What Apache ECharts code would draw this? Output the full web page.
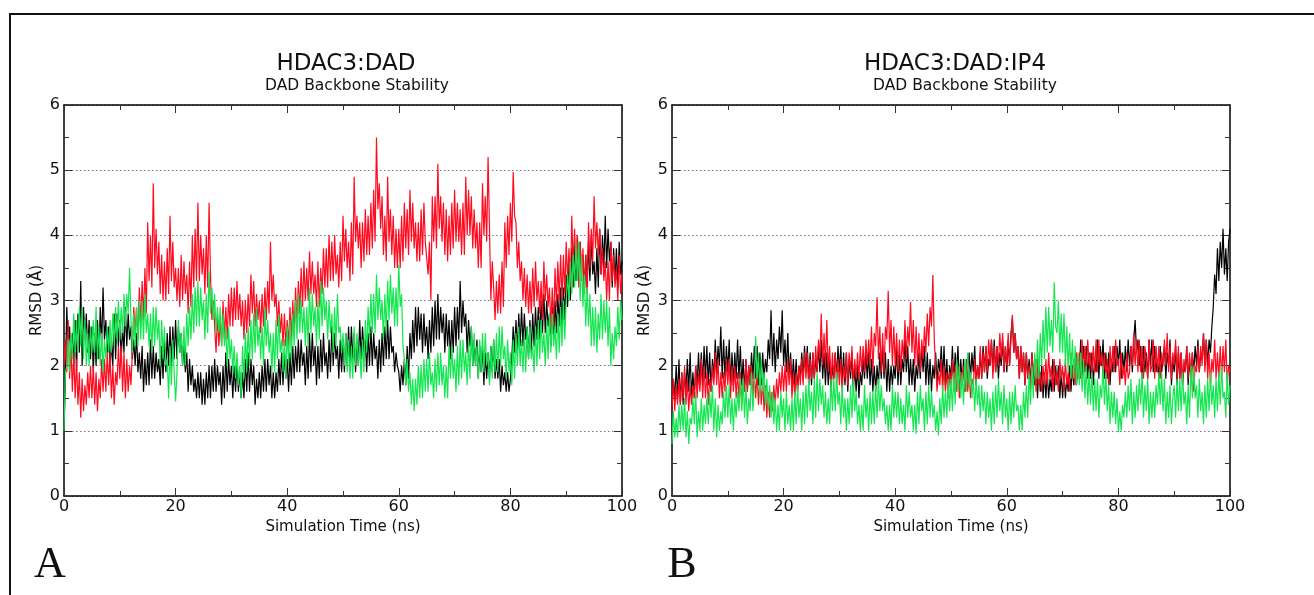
<!DOCTYPE html>
<html>
<head>
<meta charset="utf-8">
<script src="https://cdn.jsdelivr.net/npm/echarts@6/dist/echarts.min.js"></script>
<style>
html,body{margin:0;padding:0;background:#fff;}
#c{width:1314px;height:595px;}
</style>
</head>
<body>
<div id="c"></div>
<script>
// ---- data (RMSD in Å, sampled every 0.25 ns from 0 to 100 ns) ----
const timeStep = 0.25;
const xTicks = [0, 20, 40, 60, 80, 100];
const yTicks = [0, 1, 2, 3, 4, 5, 6];
const panelTitles = ['HDAC3:DAD', 'HDAC3:DAD:IP4'];
const panelSubtitles = ['DAD Backbone Stability', 'DAD Backbone Stability'];
const panelLetters = ['A', 'B'];

const blackA = [
1.0,1.8,2.9,2.3,2.6,2.1,2.5,2.0,2.7,1.9,2.8,2.2,3.3,2.0,2.9,2.4,2.8,2.2,2.7,2.1,
2.6,1.9,2.5,2.0,2.7,2.1,2.9,2.3,3.2,2.4,2.7,2.2,2.6,1.9,2.4,2.0,2.8,2.1,2.8,2.3,
2.7,2.1,2.6,2.2,2.9,2.3,2.8,2.4,2.6,2.1,2.4,2.0,2.5,1.9,2.2,1.8,2.3,1.6,2.1,1.7,
2.2,1.7,2.4,1.8,2.3,1.8,2.2,1.9,2.1,1.7,2.3,1.8,2.4,1.9,2.5,2.0,2.6,2.0,2.6,2.1,
2.7,2.1,2.6,2.2,2.5,2.0,2.3,1.9,2.2,1.6,2.1,1.7,2.0,1.6,1.8,1.5,1.9,1.5,1.9,1.4,
1.8,1.4,1.9,1.5,2.0,1.5,2.0,1.6,2.1,1.6,2.0,1.7,1.9,1.4,2.0,1.5,2.2,1.6,2.1,1.7,
2.0,1.5,2.0,1.6,2.1,1.6,1.9,1.5,1.9,1.5,2.1,1.6,2.2,1.6,2.1,1.7,2.0,1.4,1.8,1.5,
1.9,1.5,2.0,1.6,2.1,1.6,2.1,1.7,2.0,1.5,1.9,1.5,1.9,1.6,2.1,1.7,2.2,1.7,2.2,1.8,
2.1,1.6,2.2,1.7,2.3,1.8,2.3,1.9,2.4,1.9,2.4,2.0,2.2,1.7,2.3,1.8,2.5,1.9,2.5,2.0,
2.3,1.7,2.3,1.8,2.4,1.9,2.5,2.0,2.2,1.8,2.4,1.9,2.6,2.0,2.5,2.1,2.3,1.8,2.4,1.9,
2.4,1.9,2.5,2.0,2.6,2.0,2.6,2.1,2.5,1.9,2.4,2.0,2.7,2.1,2.6,2.2,2.4,1.9,2.5,2.0,
2.6,2.0,2.5,2.1,2.3,1.8,2.4,1.9,2.5,2.0,2.6,2.1,2.7,2.1,2.6,2.2,2.3,1.9,2.2,2.0,
1.9,1.6,2.0,1.7,2.1,1.7,2.3,1.8,2.5,2.1,2.7,2.2,2.9,2.3,2.9,2.4,2.8,2.2,2.8,2.3,
2.6,2.1,2.7,2.2,2.9,2.3,3.0,2.4,3.1,2.4,2.9,2.5,2.8,2.2,2.8,2.3,2.7,2.1,2.7,2.2,
2.9,2.3,2.9,2.4,3.3,2.5,3.0,2.6,2.8,2.2,2.7,2.3,2.6,2.0,2.4,2.0,2.4,1.8,2.3,1.9,
2.3,1.7,2.2,1.8,2.2,1.8,2.3,1.9,2.4,1.8,2.1,1.8,2.1,1.6,2.0,1.7,1.9,1.6,1.9,1.6,
1.8,2.1,2.6,2.2,2.7,2.2,2.8,2.3,2.9,2.3,2.8,2.4,2.6,2.1,2.7,2.2,2.8,2.3,2.9,2.4,
2.9,2.4,3.0,2.5,3.1,2.5,3.0,2.6,2.8,2.3,2.9,2.4,3.0,2.5,3.1,2.6,3.2,2.6,3.2,2.7,
3.4,2.9,3.6,3.0,3.8,3.2,3.9,3.3,4.0,3.3,3.9,3.4,3.7,3.1,3.7,3.2,3.9,3.3,4.0,3.4,
3.6,3.1,3.8,3.2,4.1,3.4,4.0,3.5,4.3,3.5,4.1,3.6,3.9,3.2,3.8,3.3,3.8,3.2,3.9,3.4,
3.6];

const redA = [
2.0,2.4,1.9,2.7,1.8,2.3,1.6,2.2,1.5,2.1,1.4,1.9,1.2,1.8,1.3,1.7,1.4,1.9,1.5,2.0,
1.5,2.0,1.4,1.9,1.3,1.8,1.5,2.1,1.6,2.1,1.6,2.2,1.7,2.2,1.5,2.0,1.4,1.9,1.7,2.3,
1.8,2.3,1.6,2.2,1.5,2.1,1.6,2.0,1.7,2.2,2.9,2.5,2.9,2.4,3.2,2.6,3.3,2.7,3.5,2.8,
4.2,3.3,4.0,3.2,4.8,3.5,4.1,3.4,3.9,3.1,3.7,3.0,3.6,3.0,3.8,3.1,4.3,3.3,3.9,3.2,
3.5,3.0,3.5,2.9,3.7,3.0,3.6,3.1,3.4,2.8,3.6,2.9,4.0,3.2,4.1,3.3,4.5,3.3,4.0,3.4,
3.8,3.1,4.0,3.2,4.5,3.4,2.7,3.0,2.6,2.2,2.8,2.3,2.7,2.3,3.0,2.4,2.9,2.4,3.1,2.6,
3.2,2.6,3.2,2.7,3.3,2.7,3.1,2.6,3.0,2.4,3.0,2.5,3.1,2.6,3.4,2.8,3.3,2.6,3.1,2.7,
3.0,2.5,3.1,2.6,3.2,2.7,3.3,2.8,3.9,3.0,3.4,2.9,3.1,2.6,3.0,2.5,2.8,2.3,2.8,2.3,
2.7,2.3,2.9,2.4,3.0,2.5,3.2,2.6,3.3,2.8,3.5,2.9,3.6,3.0,3.5,3.0,3.75,3.1,3.6,3.1,
3.4,2.9,3.6,2.9,3.5,3.1,3.8,3.2,3.8,3.2,4.0,3.3,3.9,3.3,4.0,3.4,3.7,3.2,3.9,3.3,
4.3,3.6,4.1,3.5,3.9,3.3,4.2,3.4,4.9,3.9,4.3,3.8,4.2,3.5,4.2,3.6,4.4,3.7,4.3,3.7,
4.5,3.8,4.7,3.9,5.5,4.4,4.8,4.1,4.6,3.7,4.3,3.6,4.9,3.9,4.4,3.7,4.3,3.5,4.1,3.5,
4.1,3.5,4.3,3.6,4.5,3.8,4.4,3.7,4.7,3.9,4.5,3.8,4.2,3.6,4.2,3.6,4.4,3.7,4.5,3.9,
3.9,3.4,3.9,3.0,4.6,3.9,4.6,3.8,5.1,4.1,4.6,3.9,4.5,3.7,4.4,3.6,4.3,3.7,4.5,3.8,
4.7,3.9,4.5,3.9,4.4,3.7,4.5,3.7,4.9,4.0,4.7,4.0,4.6,3.8,4.4,3.8,4.2,3.5,4.2,3.5,
4.8,4.0,4.6,3.9,5.2,4.1,3.0,3.6,3.2,2.7,3.3,2.8,3.4,2.8,3.6,2.9,4.2,3.5,4.3,3.7,
4.5,3.9,4.97,4.3,4.2,3.5,3.9,3.3,3.6,3.0,3.5,2.9,3.4,2.8,3.3,2.8,3.5,2.9,3.6,3.0,
3.3,2.8,3.3,2.7,3.6,3.0,3.4,2.9,3.2,2.6,3.2,2.6,3.5,2.9,3.6,3.0,3.7,3.0,3.7,3.1,
3.9,3.3,3.8,3.2,4.3,3.5,4.1,3.5,4.0,3.2,3.9,3.3,3.8,3.1,3.7,3.1,4.2,3.5,4.1,3.6,
4.6,3.8,4.2,3.7,4.1,3.4,3.8,3.3,3.6,3.0,3.6,3.0,3.9,3.3,3.7,3.2,3.5,3.0,3.7,3.1,
3.4];

const greenA = [
1.0,1.9,2.0,2.4,1.9,2.5,2.1,2.8,2.2,2.7,2.2,2.9,2.3,2.9,2.1,2.7,2.0,2.5,2.0,2.6,
2.2,2.7,2.2,2.9,2.1,2.6,2.0,2.5,1.9,2.4,2.1,2.6,2.2,2.7,2.2,2.8,2.3,2.9,2.4,3.0,
2.4,2.9,2.5,3.1,2.6,3.1,2.8,3.5,2.7,2.2,2.8,2.3,2.9,2.3,3.0,2.4,3.0,2.4,3.1,2.5,
2.8,2.3,2.8,2.2,2.9,2.3,2.9,2.4,2.7,2.0,2.7,2.1,2.6,2.0,2.1,1.5,2.3,1.7,2.4,1.9,
1.45,1.9,2.7,2.2,2.5,2.0,2.6,2.0,2.8,2.3,2.9,2.4,3.1,2.5,3.2,2.6,3.3,2.6,3.2,2.7,
3.0,2.4,3.1,2.5,3.45,2.8,3.2,2.7,3.1,2.5,2.9,2.5,2.9,2.3,2.8,2.3,2.6,2.0,2.6,2.1,
2.4,1.9,2.3,1.8,2.2,1.7,2.0,1.5,2.3,1.8,2.5,1.9,2.6,2.0,2.7,2.1,2.8,2.2,2.9,2.3,
2.6,2.1,2.6,2.0,2.9,2.3,2.7,2.2,2.5,1.9,2.5,1.9,2.7,2.1,2.8,2.2,2.4,1.9,2.4,1.8,
2.6,2.0,2.7,2.1,2.8,2.3,3.0,2.4,3.1,2.5,3.0,2.5,2.9,2.3,2.9,2.3,3.2,2.5,3.1,2.6,
2.9,2.3,3.0,2.4,3.3,2.6,3.2,2.7,3.0,2.4,3.0,2.5,2.8,2.2,2.9,2.3,3.1,2.5,2.6,2.2,
2.5,2.0,2.5,1.9,2.4,1.8,2.3,1.8,2.6,2.0,2.5,2.0,2.3,1.8,2.4,1.9,2.7,2.2,2.9,2.4,
3.1,2.5,3.1,2.5,3.4,2.7,3.2,2.7,3.0,2.4,3.1,2.5,3.3,2.7,3.4,2.8,3.2,2.6,3.2,2.6,
3.55,2.9,3.1,2.3,2.1,1.7,2.1,1.6,1.9,1.4,1.8,1.3,1.8,1.4,2.0,1.5,2.0,1.5,2.1,1.6,
2.1,1.6,2.2,1.7,1.9,1.5,2.1,1.6,2.2,1.7,2.2,1.7,2.0,1.5,2.0,1.5,2.3,1.8,2.3,1.8,
2.1,1.6,2.3,1.7,2.4,1.8,2.4,1.9,2.2,1.7,2.4,1.8,2.6,2.0,2.5,2.0,2.3,1.8,2.4,1.9,
2.5,1.9,2.5,2.0,2.2,1.7,2.3,1.8,2.4,1.9,2.5,1.9,2.6,2.0,2.6,2.1,2.3,1.8,2.4,1.9,
2.2,1.7,2.4,1.8,2.5,2.0,2.6,2.0,2.4,1.9,2.5,1.9,2.6,2.1,2.6,2.1,2.3,1.9,2.6,2.0,
2.7,2.1,2.7,2.2,2.5,2.0,2.7,2.1,2.8,2.2,2.8,2.3,2.6,2.1,2.8,2.2,2.9,2.3,3.0,2.4,
3.0,3.4,3.0,3.6,3.1,3.7,3.2,3.9,3.3,3.9,3.0,3.7,2.9,3.4,2.6,3.2,2.6,3.1,2.3,2.9,
2.3,2.9,2.2,2.8,2.4,3.1,2.4,3.0,2.5,3.0,2.3,2.9,2.0,2.5,2.1,2.6,2.3,2.9,2.4,3.0,
2.7];

const blackB = [
1.3,1.8,1.5,2.0,1.5,2.1,1.4,1.9,1.4,1.9,1.6,2.1,1.6,2.2,1.5,1.9,1.5,2.0,1.7,2.2,
1.7,2.2,1.7,2.3,1.8,2.3,1.7,2.2,1.6,2.1,1.8,2.4,1.9,2.3,2.0,2.6,1.8,2.4,1.8,2.3,
1.9,2.4,1.7,2.2,1.7,2.2,1.8,2.4,1.8,2.3,1.7,2.1,1.6,2.1,1.6,2.0,1.7,2.2,1.8,2.3,
1.8,2.3,1.7,2.2,1.7,2.2,1.8,2.1,1.9,2.4,2.1,2.85,2.0,2.5,1.9,2.4,2.1,2.6,2.2,2.85,
2.0,2.4,1.9,2.5,1.8,2.2,1.7,2.1,1.7,2.1,1.6,2.0,1.8,2.2,1.8,2.3,1.9,2.3,1.7,2.2,
1.7,2.2,1.8,2.1,1.9,2.3,1.9,2.4,1.8,2.2,1.7,2.2,1.7,2.1,1.6,2.0,1.8,2.2,1.8,2.3,
1.9,2.3,1.7,2.2,1.7,2.2,1.6,2.1,1.8,2.2,1.6,2.0,1.6,2.0,1.5,1.9,1.7,2.1,1.8,2.2,
1.8,2.2,1.7,2.1,1.6,2.0,1.6,2.0,1.7,2.2,1.8,2.3,1.8,2.2,1.6,2.1,1.6,2.0,1.7,2.0,
1.8,2.3,1.7,2.2,1.7,2.1,1.9,2.4,1.9,2.3,1.7,2.1,1.7,2.1,1.6,2.0,1.8,2.2,1.8,2.3,
1.9,2.3,1.7,2.2,1.7,2.1,1.6,2.0,1.8,2.2,1.7,2.1,1.9,2.3,1.8,2.3,1.7,2.1,1.6,2.0,
1.8,2.3,1.7,2.2,1.9,2.3,1.7,2.1,1.7,2.1,1.6,2.0,1.8,2.2,1.8,2.2,1.9,2.3,1.7,2.0,
1.8,2.2,1.8,2.3,1.9,2.3,1.8,2.1,2.0,2.4,1.9,2.4,1.9,2.3,1.8,2.2,2.0,2.4,1.9,2.3,
1.9,2.4,2.0,2.5,2.73,2.2,2.5,2.1,2.3,1.8,2.3,1.9,2.2,1.7,2.2,1.8,2.1,1.7,2.2,1.9,
1.7,2.1,1.5,2.0,1.6,2.0,1.5,1.9,1.5,1.9,1.5,1.8,1.6,2.1,1.6,2.0,1.7,2.0,1.5,1.9,
1.5,1.9,1.5,1.8,1.6,2.0,1.6,2.0,1.7,2.1,1.7,2.1,1.9,2.4,1.8,2.3,1.9,2.3,1.8,2.2,
1.8,2.2,1.7,2.1,1.9,2.4,1.8,2.3,2.0,2.4,1.8,2.2,1.8,2.2,1.7,2.1,1.9,2.3,1.9,2.3,
2.0,2.4,1.8,2.2,1.9,2.3,1.9,2.4,2.0,2.3,1.9,2.4,2.7,2.2,2.4,2.0,2.3,1.8,2.3,1.9,
2.2,1.8,2.4,2.0,2.4,1.9,2.3,1.9,2.1,1.8,2.3,1.9,1.9,2.3,1.8,2.2,2.0,2.4,1.7,2.1,
1.9,2.3,1.7,2.2,1.8,2.2,1.7,2.0,1.9,2.3,1.7,2.1,1.8,2.2,1.9,2.3,2.0,2.4,1.9,2.2,
2.1,2.5,2.0,2.4,2.0,2.4,2.2,2.6,2.9,3.4,3.1,3.8,3.3,3.9,3.5,4.1,3.4,3.8,3.3,3.9,
4.1];

const redB = [
1.3,1.8,1.3,1.7,1.4,1.8,1.4,1.9,1.5,2.0,1.4,1.8,1.3,1.7,1.4,1.7,1.5,2.0,1.5,1.9,
1.6,2.1,1.5,2.0,1.5,1.9,1.4,1.8,1.6,2.0,1.7,2.2,1.7,2.1,1.5,1.9,1.5,1.9,1.6,2.1,
1.7,2.1,1.5,2.0,1.6,2.0,1.5,1.9,1.5,1.9,1.4,1.8,1.6,2.1,1.6,2.0,1.7,2.0,1.5,1.9,
1.5,1.9,1.4,1.8,1.4,1.8,1.3,1.7,1.2,1.6,1.2,1.6,1.3,1.7,1.4,1.8,1.5,1.9,1.6,2.0,
1.6,2.0,1.6,2.1,1.7,2.1,1.5,1.9,1.5,1.9,1.6,2.0,1.7,2.1,1.7,2.2,1.8,2.2,1.7,2.1,
1.8,2.2,1.8,2.3,1.9,2.4,2.1,2.8,2.0,2.5,2.0,2.7,1.9,2.3,1.7,2.2,1.8,2.2,1.7,2.1,
1.7,2.1,1.6,2.0,1.8,2.2,1.7,2.2,1.9,2.3,1.7,2.1,1.8,2.2,1.8,2.3,1.9,2.3,1.9,2.4,
2.0,2.4,2.0,2.6,1.9,2.5,2.3,3.05,2.1,2.6,1.9,2.5,1.9,2.6,2.4,3.15,2.2,2.7,2.0,2.6,
2.0,2.5,1.9,2.4,1.9,2.4,2.1,2.7,2.1,2.6,2.3,2.98,2.2,2.7,2.0,2.6,2.0,2.5,1.9,2.4,
2.1,2.6,2.2,2.8,2.3,2.9,2.6,3.39,2.4,2.0,1.6,1.9,1.7,2.1,1.6,2.0,1.6,1.9,1.5,1.9,
1.7,2.1,1.6,2.0,1.6,2.0,1.5,1.9,1.7,2.0,1.6,2.1,1.6,1.9,1.5,1.8,1.7,2.1,1.7,2.0,
1.8,2.3,1.8,2.2,1.9,2.3,1.9,2.4,2.0,2.4,1.8,2.3,1.9,2.3,2.0,2.5,2.1,2.5,1.9,2.3,
2.0,2.5,2.0,2.4,2.78,2.2,2.5,2.1,2.3,1.8,2.3,1.9,2.2,1.7,2.2,1.8,2.0,1.6,2.2,1.9,
2.0,1.6,2.1,1.7,1.9,1.6,2.0,1.7,2.1,1.7,2.2,1.8,2.0,1.6,2.1,1.7,1.9,1.6,2.1,1.8,
2.0,1.6,2.1,1.7,1.9,1.6,2.2,1.8,2.1,1.7,2.2,1.8,2.2,1.8,2.4,1.9,2.3,1.9,2.4,2.0,
2.2,1.8,2.3,1.9,2.4,1.9,2.4,2.0,2.2,1.8,2.2,1.8,2.1,1.7,2.3,1.9,2.3,1.9,2.4,2.0,
2.1,1.7,2.2,1.8,2.0,1.7,2.2,1.8,1.9,2.3,2.0,2.5,2.0,2.4,1.9,2.4,1.9,2.3,1.8,2.3,
2.1,1.8,2.4,1.9,2.0,2.4,1.8,2.3,1.9,2.3,1.8,2.2,2.0,2.4,2.0,2.5,1.9,2.3,1.8,2.2,
2.0,2.4,1.8,2.3,1.8,2.2,1.7,2.1,1.9,2.3,1.8,2.2,1.8,2.2,1.6,2.0,1.9,2.3,1.9,2.3,
2.0,2.5,1.9,2.4,1.8,2.2,1.7,2.1,1.9,2.4,1.8,2.2,1.8,2.3,1.8,2.3,1.9,2.4,1.7,2.0,
1.9];

const greenB = [
0.8,1.3,0.9,1.2,0.9,1.4,1.0,1.4,1.0,1.5,0.9,1.3,0.8,1.2,1.1,1.5,1.1,1.6,0.9,1.3,
1.0,1.5,1.0,1.4,1.1,1.5,1.1,1.6,1.2,1.7,1.0,1.5,0.9,1.4,1.0,1.3,1.1,1.6,1.2,1.7,
1.2,1.7,1.1,1.5,1.0,1.5,1.2,1.6,1.3,1.8,1.3,1.8,1.2,1.7,1.1,1.5,1.3,1.9,1.3,1.7,
2.45,1.8,2.2,1.5,2.1,1.6,1.9,1.4,1.8,1.3,1.7,1.2,1.6,1.1,1.5,1.0,1.4,1.0,1.6,1.2,
1.5,1.0,1.6,1.1,1.4,1.0,1.5,1.0,1.6,1.1,1.7,1.2,1.5,1.0,1.6,1.1,1.7,1.2,1.8,1.3,
1.6,1.1,1.8,1.2,1.9,1.3,1.8,1.4,1.7,1.2,1.6,1.1,1.5,1.1,1.8,1.3,1.8,1.3,1.9,1.4,
1.6,1.1,1.7,1.2,1.5,1.0,1.5,1.1,1.7,1.2,1.8,1.3,1.6,1.1,1.4,1.0,1.4,1.0,1.7,1.2,
1.5,1.0,1.6,1.1,1.6,1.1,1.7,1.2,1.8,1.3,1.7,1.3,1.5,1.1,1.4,1.0,1.4,1.0,1.7,1.2,
1.6,1.2,1.6,1.1,1.5,1.1,1.4,1.0,1.7,1.2,1.6,1.2,1.4,1.0,1.4,0.95,1.6,1.1,1.7,1.3,
1.5,1.0,1.6,1.1,1.7,1.2,1.6,1.2,1.4,1.0,1.3,0.93,1.5,1.1,1.7,1.2,1.6,1.2,1.8,1.3,
1.8,1.3,1.9,1.4,2.1,1.6,2.0,1.5,1.9,1.4,2.1,1.6,2.2,1.7,1.9,1.5,1.8,1.3,1.8,1.4,
1.7,1.2,1.7,1.3,1.6,1.1,1.6,1.2,1.5,1.0,1.6,1.1,1.7,1.2,1.8,1.3,1.6,1.1,1.7,1.2,
1.5,1.0,1.6,1.1,1.6,1.2,1.7,1.3,1.4,1.0,1.4,1.0,1.6,1.2,1.7,1.2,1.9,1.4,2.0,1.5,
2.2,1.8,2.4,1.8,2.5,2.0,2.7,2.1,2.9,2.2,2.9,2.3,2.7,2.2,3.28,2.6,2.5,3.0,2.2,2.8,
2.2,2.8,2.0,2.6,1.9,2.5,1.8,2.4,1.8,2.3,1.7,2.2,1.7,2.2,1.6,2.1,1.5,2.0,1.4,1.9,
1.4,1.9,1.3,1.8,1.3,1.8,1.2,1.7,1.5,2.0,1.4,1.9,1.3,1.7,1.1,1.6,1.2,1.6,1.1,1.5,
0.98,1.3,1.0,1.4,1.2,1.6,1.2,1.7,1.3,1.8,1.1,1.6,1.2,1.7,1.3,1.8,1.4,1.9,1.2,1.7,
1.3,1.8,1.1,1.6,1.2,1.6,1.2,1.7,1.4,1.9,1.4,1.9,1.3,1.8,1.1,1.6,1.2,1.7,1.1,1.5,
1.7,1.2,1.8,1.3,1.8,1.3,1.9,1.4,1.6,1.1,1.7,1.2,2.0,1.5,2.0,1.5,1.7,1.2,1.8,1.3,
1.6,1.1,1.7,1.2,1.8,1.3,1.9,1.4,1.7,1.2,1.8,1.3,1.9,1.4,2.0,1.5,1.6,1.2,1.9,1.4,
1.7];

// ---- chart ----
const times = blackA.map((_, i) => i * timeStep);
const pairs = vals => vals.map((v, i) => [times[i], v]);

const FONT = 'DejaVu Sans';
const gridLefts = [64, 672];
const gridW = 558, gridTop = 105, gridH = 391;

const grids = gridLefts.map(l => ({left: l, top: gridTop, width: gridW, height: gridH,
  show: false, containLabel: false}));

const axisLineStyle = {show: true, onZero: false, lineStyle: {color: '#000', width: 1.5}};
const tickStyle = {show: true, inside: true, length: 8, lineStyle: {color: '#333', width: 1}};
const minorStyle = {show: true, splitNumber: 2, length: 5, lineStyle: {color: '#333', width: 1}};

const xAxes = [], yAxes = [];
gridLefts.forEach((_, g) => {
  xAxes.push({type: 'value', gridIndex: g, position: 'bottom', min: xTicks[0], max: xTicks[xTicks.length-1],
    interval: xTicks[1] - xTicks[0],
    axisLine: axisLineStyle, axisTick: tickStyle, minorTick: minorStyle,
    splitLine: {show: false},
    axisLabel: {color: '#111', fontSize: 16, fontFamily: FONT, margin: 3},
    name: 'Simulation Time (ns)', nameLocation: 'middle', nameGap: 19,
    nameTextStyle: {color: '#111', fontSize: 15, fontFamily: FONT}});
  xAxes.push({type: 'value', gridIndex: g, position: 'top', min: xTicks[0], max: xTicks[xTicks.length-1],
    interval: xTicks[1] - xTicks[0],
    axisLine: axisLineStyle, axisTick: tickStyle, minorTick: minorStyle,
    splitLine: {show: false}, axisLabel: {show: false}});
  yAxes.push({type: 'value', gridIndex: g, position: 'left', min: yTicks[0], max: yTicks[yTicks.length-1],
    interval: yTicks[1] - yTicks[0],
    axisLine: axisLineStyle, axisTick: tickStyle, minorTick: minorStyle,
    splitLine: {show: true, lineStyle: {color: '#777', type: [1.5, 2.5], width: 1}},
    axisLabel: {color: '#111', fontSize: 16, fontFamily: FONT, margin: 4},
    name: 'RMSD (Å)', nameLocation: 'middle', nameGap: 19,
    nameTextStyle: {color: '#111', fontSize: 15, fontFamily: FONT}});
  yAxes.push({type: 'value', gridIndex: g, position: 'right', min: yTicks[0], max: yTicks[yTicks.length-1],
    interval: yTicks[1] - yTicks[0],
    axisLine: axisLineStyle, axisTick: tickStyle, minorTick: minorStyle,
    splitLine: {show: false}, axisLabel: {show: false}});
});

const seriesDefs = [
  {data: blackA, color: '#000000', g: 0},
  {data: redA, color: '#ff0a1e', g: 0},
  {data: greenA, color: '#14e650', g: 0},
  {data: blackB, color: '#000000', g: 1},
  {data: redB, color: '#ff0a1e', g: 1},
  {data: greenB, color: '#14e650', g: 1}
];
const series = seriesDefs.map((s, i) => ({
  type: 'line', data: pairs(s.data), xAxisIndex: s.g * 2, yAxisIndex: s.g * 2,
  showSymbol: false, symbol: 'none', lineStyle: {color: s.color, width: 1.2}, z: 2 + (i % 3),
  silent: true, animation: false
}));

const titleCenters = [346, 955];
const subCenters = [357, 965];
const letterX = [50, 682];
const graphics = [
  {type: 'rect', shape: {x: 10, y: 14, width: 1400, height: 700},
   style: {fill: 'none', stroke: '#111', lineWidth: 2}, z: 100}
];
panelTitles.forEach((t, i) => {
  graphics.push({type: 'text', x: titleCenters[i], y: 64, style: {text: t, fill: '#111',
    fontSize: 23, fontFamily: 'DejaVu Sans', textAlign: 'center', textVerticalAlign: 'middle'}});
  graphics.push({type: 'text', x: subCenters[i], y: 86, style: {text: panelSubtitles[i], fill: '#111',
    fontSize: 15.5, fontFamily: 'DejaVu Sans', textAlign: 'center', textVerticalAlign: 'middle'}});
  graphics.push({type: 'text', x: letterX[i], y: 565, style: {text: panelLetters[i], fill: '#111',
    fontSize: 44, fontFamily: 'Liberation Serif', textAlign: 'center', textVerticalAlign: 'middle'}});
});

const chart = echarts.init(document.getElementById('c'), null, {renderer: 'canvas'});
chart.setOption({
  animation: false,
  backgroundColor: '#fff',
  grid: grids,
  xAxis: xAxes,
  yAxis: yAxes,
  series: series,
  graphic: graphics
});
</script>
</body>
</html>
